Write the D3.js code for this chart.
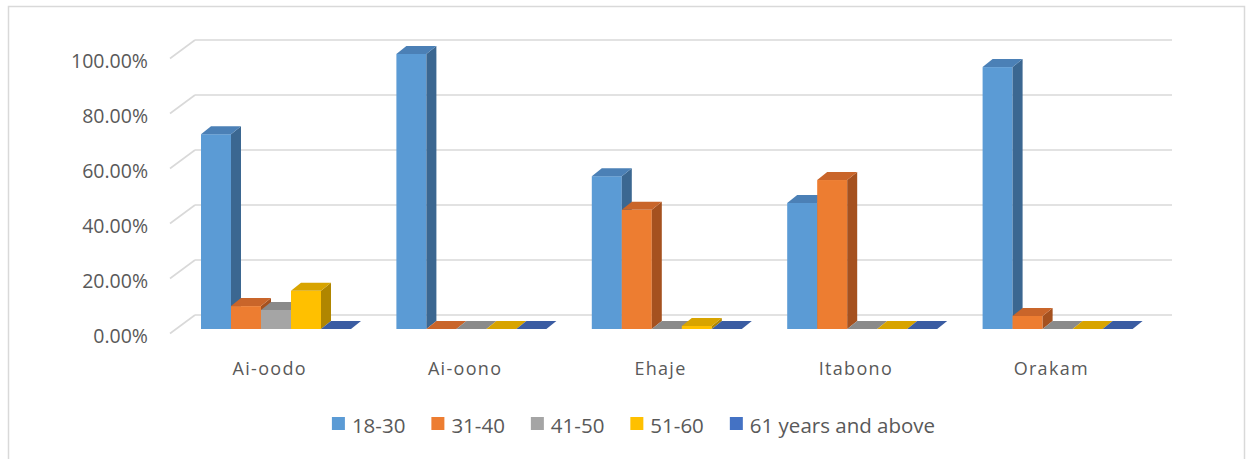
<!DOCTYPE html>
<html>
<head>
<meta charset="utf-8">
<script src="https://cdn.jsdelivr.net/npm/d3@7/dist/d3.min.js"></script>
<style>
  html, body { margin: 0; padding: 0; background: #fff; }
  svg { display: block; }
  text { font-family: "Open Sans", "Liberation Sans", sans-serif; fill: #595959; }
</style>
</head>
<body>
<svg id="chart" width="1250" height="459"></svg>
<script>
// ---- data ----
const categories = ["Ai-oodo", "Ai-oono", "Ehaje", "Itabono", "Orakam"];
const seriesNames = ["18-30", "31-40", "41-50", "51-60", "61 years and above"];
const s18_30 = [0.7083, 1.0, 0.5556, 0.4583, 0.9524];
const s31_40 = [0.0833, 0.0, 0.4333, 0.5417, 0.0476];
const s41_50 = [0.0694, 0.0, 0.0, 0.0, 0.0];
const s51_60 = [0.1389, 0.0, 0.0111, 0.0, 0.0];
const s61up  = [0.0, 0.0, 0.0, 0.0, 0.0];
const yTicks = [0, 0.2, 0.4, 0.6, 0.8, 1.0];

const seriesValues = [s18_30, s31_40, s41_50, s51_60, s61up];
const colors = [
  {front: "#5B9BD5", top: "#4b80b6", side: "#3b6791"},
  {front: "#ED7D31", top: "#c9652a", side: "#a5511f"},
  {front: "#A5A5A5", top: "#8a8a8a", side: "#777777"},
  {front: "#FFC000", top: "#d8a400", side: "#b08600"},
  {front: "#4472C4", top: "#3a5ca2", side: "#2f5190"}
];

const svg = d3.select("#chart");

// chart border
svg.append("rect")
  .attr("x", 8.5).attr("y", 6.5).attr("width", 1236).attr("height", 480)
  .attr("fill", "#fff").attr("stroke", "#d9d9d9").attr("stroke-width", 1.5);

// scales
const y = d3.scaleLinear().domain([0, 1]).range([315, 40]);
const x = d3.scaleBand().domain(categories).range([172, 1149]);
const xs = d3.scaleBand().domain(seriesNames).range([29, 179]);

const wallDX = 25, wallDY = 18.5;   // floor/side depth
const barOff = 14;                  // bars sit slightly in front of back wall
const bdx = 10, bdy = 8;            // bar depth
const backLeft = 195, backRight = 1172;

// gridlines (back wall + left side diagonals)
const grid = svg.append("g");
yTicks.forEach(t => {
  grid.append("line")
    .attr("x1", backLeft).attr("x2", backRight)
    .attr("y1", y(t)).attr("y2", y(t))
    .attr("stroke", "#d9d9d9").attr("stroke-width", 1.6);
  grid.append("line")
    .attr("x1", backLeft - wallDX).attr("y1", y(t) + wallDY)
    .attr("x2", backLeft).attr("y2", y(t))
    .attr("stroke", "#d9d9d9").attr("stroke-width", 1.6);
});

// y tick labels
const fmt = d3.format(".2%");
svg.append("g").selectAll("text").data(yTicks).join("text")
  .attr("x", 148)
  .attr("y", d => y(d) + wallDY + 9.5)
  .attr("text-anchor", "end")
  .attr("font-size", "19.5px")
  .text(d => fmt(d));

// bars
const bars = svg.append("g");
categories.forEach((c, ci) => {
  seriesNames.forEach((s, si) => {
    const v = seriesValues[si][ci];
    const col = colors[si];
    const x0 = x(c) + xs(s);
    const x1 = x0 + xs.bandwidth();
    const yb = y(0) + barOff;
    const yt = y(v) + barOff;
    if (yb - yt > 0.01) {
      bars.append("rect")
        .attr("x", x0).attr("y", yt)
        .attr("width", x1 - x0).attr("height", yb - yt)
        .attr("fill", col.front);
      bars.append("polygon")
        .attr("points", [[x1, yt], [x1 + bdx, yt - bdy], [x1 + bdx, yb - bdy], [x1, yb]].map(p => p.join(",")).join(" "))
        .attr("fill", col.side);
    }
    bars.append("polygon")
      .attr("points", [[x0, yt], [x1, yt], [x1 + bdx, yt - bdy], [x0 + bdx, yt - bdy]].map(p => p.join(",")).join(" "))
      .attr("fill", col.top);
  });
});

// category labels
svg.append("g").selectAll("text").data(categories).join("text")
  .attr("x", d => x(d) + x.bandwidth() / 2)
  .attr("y", 375)
  .attr("text-anchor", "middle")
  .attr("font-size", "18px")
  .attr("letter-spacing", "1.3px")
  .text(d => d);

// legend
const legend = svg.append("g");
const items = seriesNames.map((s, i) => {
  const g = legend.append("g");
  g.append("rect").attr("x", 0).attr("y", 417).attr("width", 13).attr("height", 13)
    .attr("fill", colors[i].front);
  const t = g.append("text").attr("x", 20).attr("y", 433)
    .attr("font-size", "20.5px").text(s);
  return {g, w: 20 + t.node().getComputedTextLength()};
});
const gap = 26;
const total = d3.sum(items, d => d.w) + gap * (items.length - 1);
let cx = 633.5 - total / 2;
items.forEach(it => {
  it.g.attr("transform", `translate(${cx},0)`);
  cx += it.w + gap;
});
</script>
</body>
</html>
